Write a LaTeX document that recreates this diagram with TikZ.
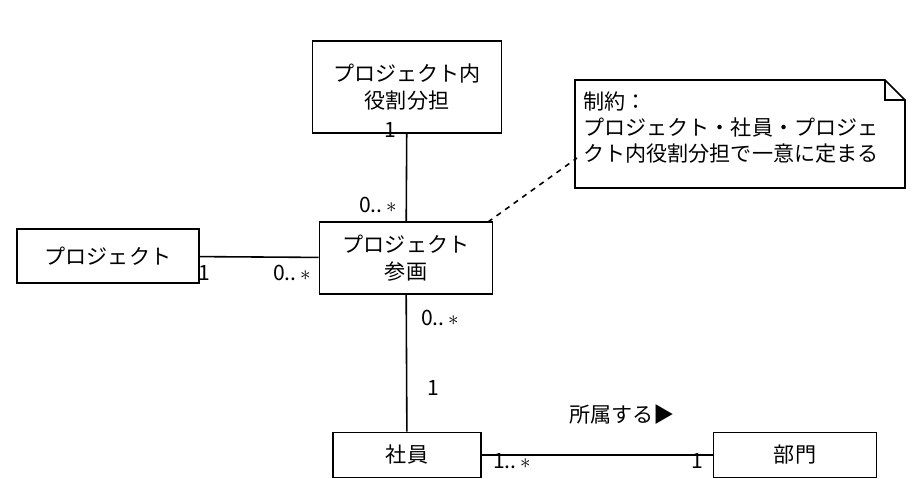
\documentclass[tikz,border=0pt]{standalone}
\usepackage{fontspec}
\setmainfont{Noto Sans CJK JP}
\usetikzlibrary{positioning,shapes.misc}
\begin{document}
\begin{tikzpicture}
[x=0.02cm, y=-0.02cm,
cls/.style={draw=black, rectangle, line width=0.9pt, align=center, font=\fontsize{12}{15}\selectfont, inner sep=0pt},
mult/.style={font=\fontsize{12}{14}\selectfont, inner sep=1pt},
assoc/.style={line width=0.9pt},]
\useasboundingbox (0,0) rectangle (920,479);
\node (role) [cls, minimum width=3.78cm, minimum height=1.84cm] at (407,87) {プロジェクト内\\役割分担};
\node (proj) [cls, minimum width=3.64cm, minimum height=1.08cm] at (108,256) {プロジェクト};
\node (part) [cls, minimum width=3.46cm, minimum height=1.44cm] at (406,258) {プロジェクト\\参画};
\node (emp) [cls, minimum width=2.96cm, minimum height=0.9cm] at (407,455) {社員};
\node (dept) [cls, minimum width=3.26cm, minimum height=0.9cm] at (795,455) {部門};

% note with folded corner
\draw [line width=0.9pt] (575,80) -- (885,80) -- (905,100) -- (905,188) -- (575,188) -- cycle;
\draw [line width=0.9pt] (885,80) -- (885,100) -- (905,100);
\coordinate (noteanchor) at (577,158);
\node (note) [anchor=north west, align=left, font=\fontsize{12}{15}\selectfont, inner sep=0pt] at (583,91)
  {制約：\\プロジェクト・社員・プロジェ\\クト内役割分担で一意に定まる};

\draw [assoc] (role) -- (part);
\draw [assoc] (proj) -- (part);
\draw [assoc] (part) -- (emp);
\draw [assoc] (emp) -- (dept);
\draw [line width=0.9pt, dashed] (488,222) -- (noteanchor);

\node [mult] at (390,130) {1};
\node [mult] at (378,205) {0..\,$\ast$};
\node [mult] at (204,273) {1};
\node [mult] at (292,273) {0..\,$\ast$};
\node [mult] at (440,318) {0..\,$\ast$};
\node [mult] at (433,388) {1};
\node [mult] at (622,415) {所属する▶};
\node [mult] at (512,461) {1..\,$\ast$};
\node [mult] at (697,461) {1};
\end{tikzpicture}
\end{document}
